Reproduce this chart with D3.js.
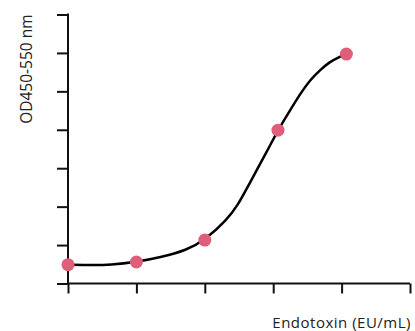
<!DOCTYPE html>
<html>
<head>
<meta charset="utf-8">
<script src="https://cdn.jsdelivr.net/npm/d3@7"></script>
<style>
  body { margin: 0; background: #fff; }
  text { font-family: "Open Sans", sans-serif; fill: #222; }
</style>
</head>
<body>
<div id="chart"></div>
<script>
const doseX = [0, 1, 2, 3.07, 4.07]
const od = [0.49, 0.56, 1.13, 3.99, 5.97]
// fitted curve at a few places
const fitX = [0, 0.365, 0.614, 1.0, 1.345, 1.735, 2.0, 2.32, 2.49, 2.613, 2.943, 3.07, 3.221, 3.392, 3.538, 3.684, 3.83, 3.952, 4.07]
const fitY = [0.49, 0.477, 0.484, 0.56, 0.677, 0.867, 1.128, 1.648, 2.06, 2.47, 3.55, 3.99, 4.43, 4.93, 5.294, 5.555, 5.771, 5.885, 5.97]
const xTicks = [0, 1, 2, 3, 4, 5]
const yTicks = [0, 1, 2, 3, 4, 5, 6, 7]

const width = 415
const height = 331
const margin = { top: 14.5, right: 5, bottom: 47.5, left: 68 }

const svg = d3
  .select('#chart')
  .append('svg')
  .attr('width', width)
  .attr('height', height)

const x = d3.scaleLinear().domain([0, 5]).range([margin.left, width - margin.right])
const y = d3.scaleLinear().domain([0, 7]).range([height - margin.bottom, margin.top])

svg
  .append('g')
  .attr('transform', `translate(0,${y(0)})`)
  .call(d3.axisBottom(x).tickValues(xTicks).tickSize(10).tickFormat(''))

svg
  .append('g')
  .attr('transform', `translate(${x(0)},0)`)
  .call(d3.axisLeft(y).tickValues(yTicks).tickSize(11).tickFormat(''))

svg.selectAll('.domain').remove()
svg.selectAll('.tick line').attr('stroke', '#111').attr('stroke-width', 2)

// axis lines drawn separately so the corner is square
svg
  .append('line')
  .attr('x1', x(0)).attr('x2', x(5))
  .attr('y1', y(0)).attr('y2', y(0))
  .attr('stroke', '#111').attr('stroke-width', 2)
svg
  .append('line')
  .attr('x1', x(0)).attr('x2', x(0))
  .attr('y1', y(0)).attr('y2', y(7) - 1)
  .attr('stroke', '#111').attr('stroke-width', 2)

const pts = doseX.map((d, i) => [d, od[i]])
const fit = fitX.map((d, i) => [d, fitY[i]])

const line = d3
  .line()
  .x(d => x(d[0]))
  .y(d => y(d[1]))
  .curve(d3.curveBasis)

svg
  .append('path')
  .datum(fit)
  .attr('d', line)
  .attr('fill', 'none')
  .attr('stroke', '#000')
  .attr('stroke-width', 2.5)

svg
  .selectAll('circle.pt')
  .data(pts)
  .enter()
  .append('circle')
  .attr('class', 'pt')
  .attr('cx', d => x(d[0]))
  .attr('cy', d => y(d[1]))
  .attr('r', 6.5)
  .attr('fill', '#df5f7b')

svg
  .append('text')
  .attr('transform', `translate(32,${margin.top}) rotate(-90)`)
  .attr('text-anchor', 'end')
  .attr('font-size', 15.5)
  .text('OD450-550 nm')

svg
  .append('text')
  .attr('x', 411)
  .attr('y', 327.5)
  .attr('text-anchor', 'end')
  .attr('font-size', 15)
  .attr('letter-spacing', 0.5)
  .text('Endotoxin (EU/mL)')
</script>
</body>
</html>
